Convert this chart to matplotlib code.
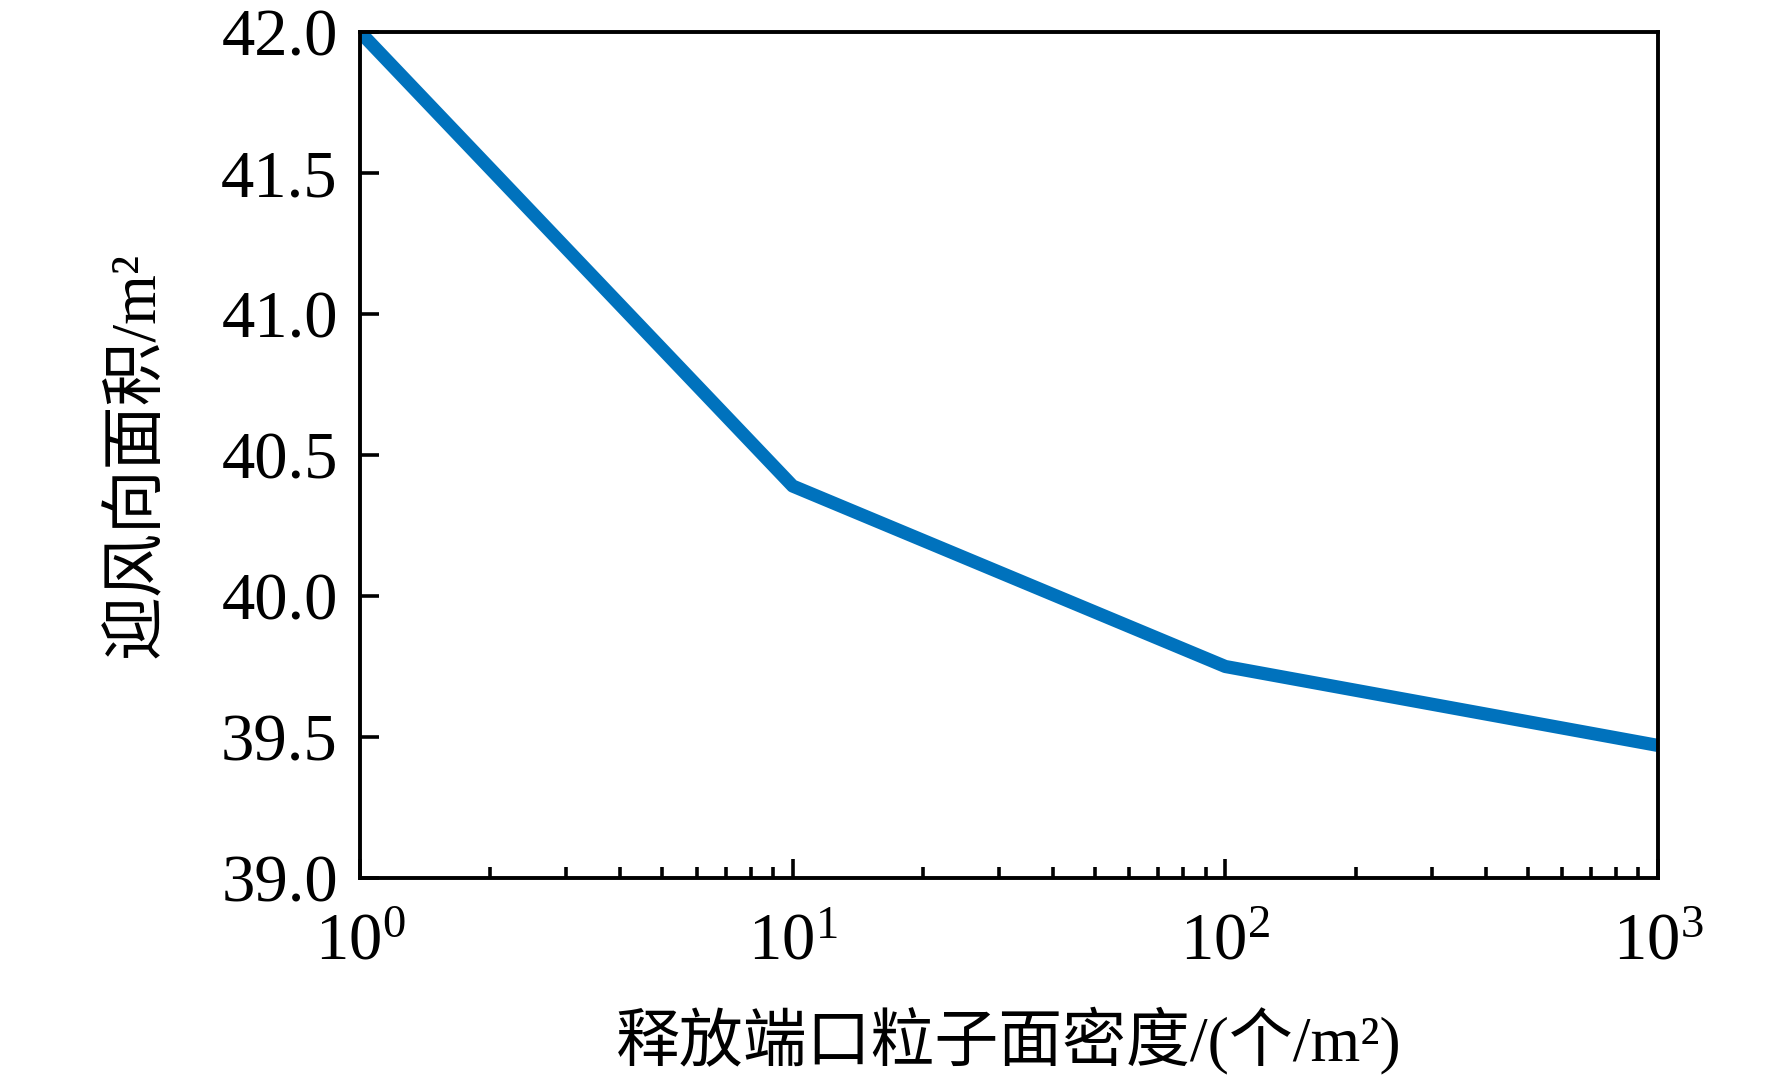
import matplotlib
matplotlib.use("Agg")
import matplotlib.pyplot as plt
from matplotlib.ticker import LogLocator

density = [1, 10, 100, 1000]
area = [42.0, 40.39, 39.75, 39.47]
yticks = [39.0, 39.5, 40.0, 40.5, 41.0, 41.5, 42.0]
xticklabels = [r'$10^{0}$', r'$10^{1}$', r'$10^{2}$', r'$10^{3}$']
xlabel = '释放端口粒子面密度/(个/m²)'
ylabel = '迎风向面积/m²'

plt.rcParams['font.family'] = ['Liberation Serif', 'Noto Sans CJK SC']
plt.rcParams['mathtext.fontset'] = 'custom'
plt.rcParams['mathtext.rm'] = 'Liberation Serif'
plt.rcParams['mathtext.it'] = 'Liberation Serif'

fig = plt.figure(figsize=(17.72, 10.8), dpi=100)
ax = fig.add_axes([360/1772, 1 - 878/1080, (1658-360)/1772, (878-32)/1080])
ax.plot(density, area, color='#0072BD', lw=9.5, solid_capstyle='butt')
ax.set_xscale('log')
ax.set_xlim(1, 1000)
ax.set_ylim(39, 42)
ax.set_yticks(yticks)
ax.set_yticklabels([f"{v:.1f}" for v in yticks])
ax.set_xticks(density)
ax.set_xticklabels(xticklabels)
ax.xaxis.set_minor_locator(LogLocator(base=10, subs=range(2, 10)))
ax.tick_params(axis='y', which='major', direction='in', length=14, width=2.6, labelsize=48, pad=16)
ax.tick_params(axis='x', which='major', direction='in', length=14, width=2.6, labelsize=48, pad=25)
ax.tick_params(axis='x', which='minor', direction='in', length=8, width=2.6)
for s in ax.spines.values():
    s.set_linewidth(2.8)
ax.set_xlabel(xlabel, fontsize=46, labelpad=24)
ax.set_ylabel(ylabel, fontsize=46, labelpad=38)
fig.savefig('out.png', dpi=100)
